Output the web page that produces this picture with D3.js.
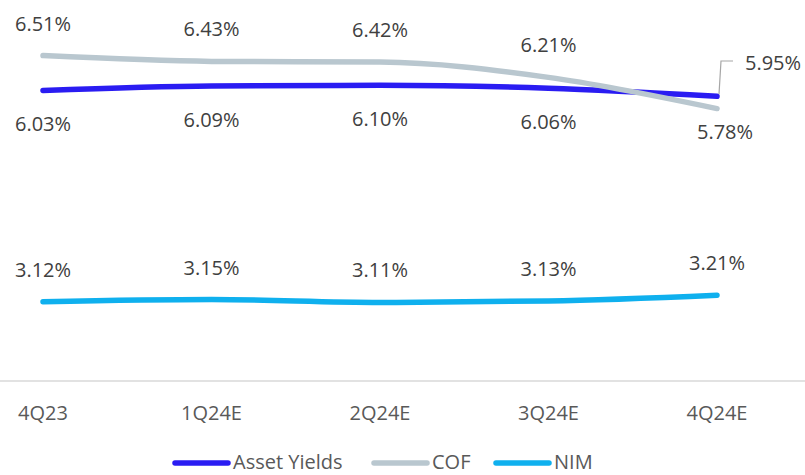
<!DOCTYPE html>
<meta charset="utf-8">
<title>Yields, COF and NIM</title>
<script src="https://d3js.org/d3.v7.min.js"></script>
<style>
  body { margin: 0; background: #fff; }
  text { font-family: "Open Sans", sans-serif; }
</style>
<body>
<div id="chart"></div>
<script>
  // data
  var quarters = ["4Q23", "1Q24E", "2Q24E", "3Q24E", "4Q24E"];
  var assetYields = [6.03, 6.09, 6.10, 6.06, 5.95];
  var cof = [6.51, 6.43, 6.42, 6.21, 5.78];
  var nim = [3.12, 3.15, 3.11, 3.13, 3.21];
  var seriesNames = ["Asset Yields", "COF", "NIM"];

  var width = 805, height = 475;

  var svg = d3.select("#chart").append("svg")
      .attr("width", width)
      .attr("height", height);

  var x = d3.scalePoint().domain(quarters).range([43, 717]);
  var y = d3.scaleLinear().domain([2, 7]).range([383, 20]);

  var series = [
    { name: seriesNames[0], values: assetYields, color: "#2a1cf2", pos: "below" },
    { name: seriesNames[1], values: cof, color: "#b9c7cf", pos: "above" },
    { name: seriesNames[2], values: nim, color: "#0fb0ee", pos: "above" }
  ];

  // x axis line
  svg.append("line")
      .attr("x1", 0).attr("x2", width)
      .attr("y1", 381).attr("y2", 381)
      .attr("stroke", "#d9d9d9").attr("stroke-width", 1.5);

  // category labels
  svg.append("g").selectAll("text")
      .data(quarters)
      .enter().append("text")
      .attr("x", function (d) { return x(d); })
      .attr("y", 420)
      .attr("text-anchor", "middle")
      .attr("font-size", 20)
      .attr("fill", "#595959")
      .text(function (d) { return d; });

  var line = d3.line()
      .x(function (d, i) { return x(quarters[i]); })
      .y(function (d) { return y(d); })
      .curve(d3.curveMonotoneX);

  series.forEach(function (s) {
    svg.append("path")
        .datum(s.values)
        .attr("d", line)
        .attr("fill", "none")
        .attr("stroke", s.color)
        .attr("stroke-width", 5.5)
        .attr("stroke-linecap", "round");
  });

  // data labels
  series.forEach(function (s) {
    svg.append("g").selectAll("text")
        .data(s.values)
        .enter().append("text")
        .attr("x", function (d, i) {
          if (s.name === "COF" && i === 4) return x(quarters[i]) + 8;
          if (s.name === "Asset Yields" && i === 4) return x(quarters[i]) + 56;
          return x(quarters[i]);
        })
        .attr("y", function (d, i) {
          if (s.name === "COF" && i === 4) return y(d) + 30;
          if (s.name === "Asset Yields" && i === 4) return 70;
          return s.pos === "above" ? y(d) - 25 : y(d) + 41;
        })
        .attr("text-anchor", "middle")
        .attr("font-size", 20)
        .attr("fill", "#404040")
        .text(function (d) { return d.toFixed(2) + "%"; });
  });

  // leader line for the last Asset Yields label
  var lx = x(quarters[4]), ly = y(assetYields[4]);
  svg.append("path")
      .attr("d", "M" + (lx + 2) + "," + (ly - 2) + "L" + (lx + 4) + "," + 61 + "L" + (lx + 16) + "," + 61)
      .attr("fill", "none")
      .attr("stroke", "#a6a6a6")
      .attr("stroke-width", 1.2);

  // legend
  var legendX = [173, 372, 494];
  var legend = svg.append("g").selectAll("g")
      .data(series)
      .enter().append("g")
      .attr("transform", function (d, i) { return "translate(" + legendX[i] + ",463)"; });
  legend.append("line")
      .attr("x1", 2).attr("x2", 55)
      .attr("stroke", function (d) { return d.color; })
      .attr("stroke-width", 5.5)
      .attr("stroke-linecap", "round");
  legend.append("text")
      .attr("x", 60)
      .attr("y", 6)
      .attr("font-size", 20)
      .attr("fill", "#595959")
      .text(function (d) { return d.name; });
</script>
</body>
